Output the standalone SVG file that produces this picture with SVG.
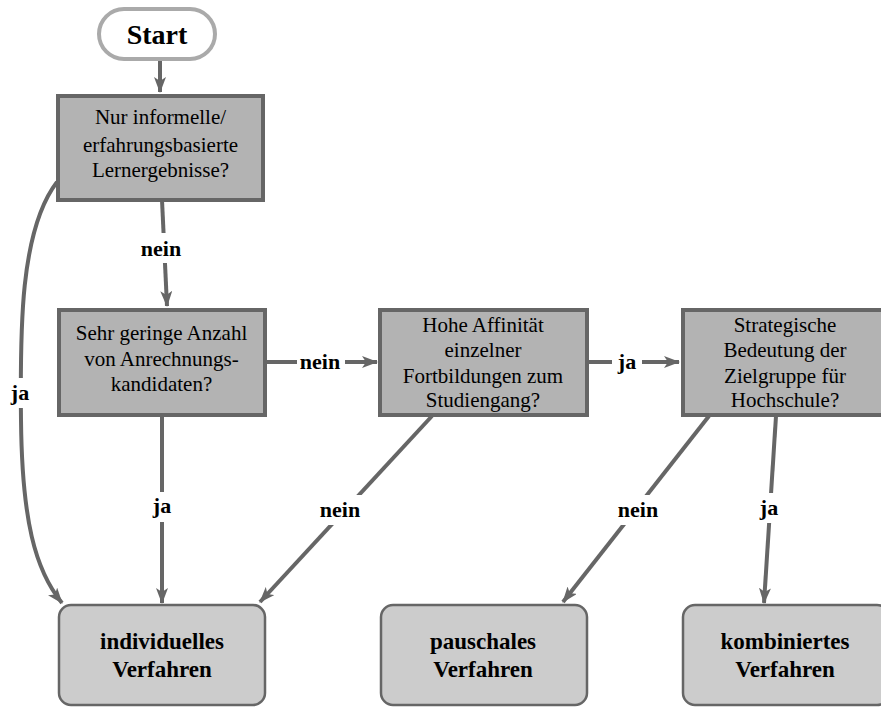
<svg xmlns="http://www.w3.org/2000/svg" width="881" height="707" viewBox="0 0 881 707">
<defs>
<style>
.q{fill:#b3b3b3;stroke:#666;stroke-width:4}
.t{fill:#cccccc;stroke:#666;stroke-width:2.5}
text{font-family:'Liberation Serif','Times New Roman',Times,Tinos,'DejaVu Serif','Noto Serif',serif;fill:#000;text-anchor:middle}
.qt{font-size:21px}
.tt{font-size:23px;font-weight:bold}
.lb{font-size:22px;font-weight:bold}
.c{fill:none;stroke:#666;stroke-width:4}
.bg{fill:#fff}
</style>
<marker id="ah" markerUnits="userSpaceOnUse" markerWidth="16" markerHeight="12" refX="15" refY="6" orient="auto">
<path d="M0,0 L16,6 L0,12 L4,6 z" fill="#666"/>
</marker>
</defs>
<rect width="881" height="707" fill="#fff"/>
<g id="connectors">
<path class="c" d="M160,60 L160,92" marker-end="url(#ah)"/>
<path class="c" d="M162,200 L167,306" marker-end="url(#ah)"/>
<path class="c" d="M57,182 C20,230 20,330 21,420 C22,520 35,570 62,603" marker-end="url(#ah)"/>
<path class="c" d="M162,416 L162,603" marker-end="url(#ah)"/>
<path class="c" d="M265,362 L377,362" marker-end="url(#ah)"/>
<path class="c" d="M587,362 L679,362" marker-end="url(#ah)"/>
<path class="c" d="M432,416 L260,602" marker-end="url(#ah)"/>
<path class="c" d="M709,416 L563,602" marker-end="url(#ah)"/>
<path class="c" d="M776,416 L764,603" marker-end="url(#ah)"/>
<rect class="bg" x="136" y="233" width="50" height="30"/>
<text class="lb" x="161" y="256">nein</text>
<rect class="bg" x="6" y="378" width="28" height="30"/>
<text class="lb" x="20" y="400">ja</text>
<rect class="bg" x="148" y="492" width="28" height="30"/>
<text class="lb" x="162" y="513">ja</text>
<rect class="bg" x="297" y="347" width="48" height="30"/>
<text class="lb" x="320" y="369">nein</text>
<rect class="bg" x="612" y="347" width="30" height="30"/>
<text class="lb" x="627" y="369">ja</text>
<rect class="bg" x="315" y="495" width="50" height="30"/>
<text class="lb" x="340" y="517">nein</text>
<rect class="bg" x="613" y="495" width="50" height="30"/>
<text class="lb" x="638" y="517">nein</text>
<rect class="bg" x="755" y="493" width="28" height="30"/>
<text class="lb" x="769" y="515">ja</text>
</g>
<g id="start">
<rect x="99" y="9" width="116" height="50" rx="25" fill="#fff" stroke="#aaa" stroke-width="4"/>
<text x="157" y="44" font-size="28" font-weight="bold">Start</text>
</g>
<g id="q1">
<rect class="q" x="58" y="96" width="205" height="104"/>
<text class="qt" x="160.5" y="124">Nur informelle/</text>
<text class="qt" x="160.5" y="152">erfahrungsbasierte</text>
<text class="qt" x="160.5" y="177">Lernergebnisse?</text>
</g>
<g id="q2">
<rect class="q" x="59" y="310" width="206" height="105"/>
<text class="qt" x="161.5" y="340">Sehr geringe Anzahl</text>
<text class="qt" x="161.5" y="366">von Anrechnungs-</text>
<text class="qt" x="161.5" y="391">kandidaten?</text>
</g>
<g id="q3">
<rect class="q" x="380" y="310" width="207" height="105"/>
<text class="qt" x="483" y="332">Hohe Affinität</text>
<text class="qt" x="483" y="357">einzelner</text>
<text class="qt" x="483" y="383">Fortbildungen zum</text>
<text class="qt" x="483" y="407">Studiengang?</text>
</g>
<g id="q4">
<rect class="q" x="683" y="310" width="206" height="105"/>
<text class="qt" x="785" y="332">Strategische</text>
<text class="qt" x="785" y="357">Bedeutung der</text>
<text class="qt" x="785" y="383">Zielgruppe für</text>
<text class="qt" x="785" y="407">Hochschule?</text>
</g>
<g id="r1">
<rect class="t" x="59" y="605" width="206" height="100" rx="12"/>
<text class="tt" x="162" y="649">individuelles</text>
<text class="tt" x="162" y="677">Verfahren</text>
</g>
<g id="r2">
<rect class="t" x="381" y="605" width="206" height="100" rx="12"/>
<text class="tt" x="483" y="649">pauschales</text>
<text class="tt" x="483" y="677">Verfahren</text>
</g>
<g id="r3">
<rect class="t" x="683" y="605" width="206" height="100" rx="12"/>
<text class="tt" x="785" y="649">kombiniertes</text>
<text class="tt" x="785" y="677">Verfahren</text>
</g>
</svg>
